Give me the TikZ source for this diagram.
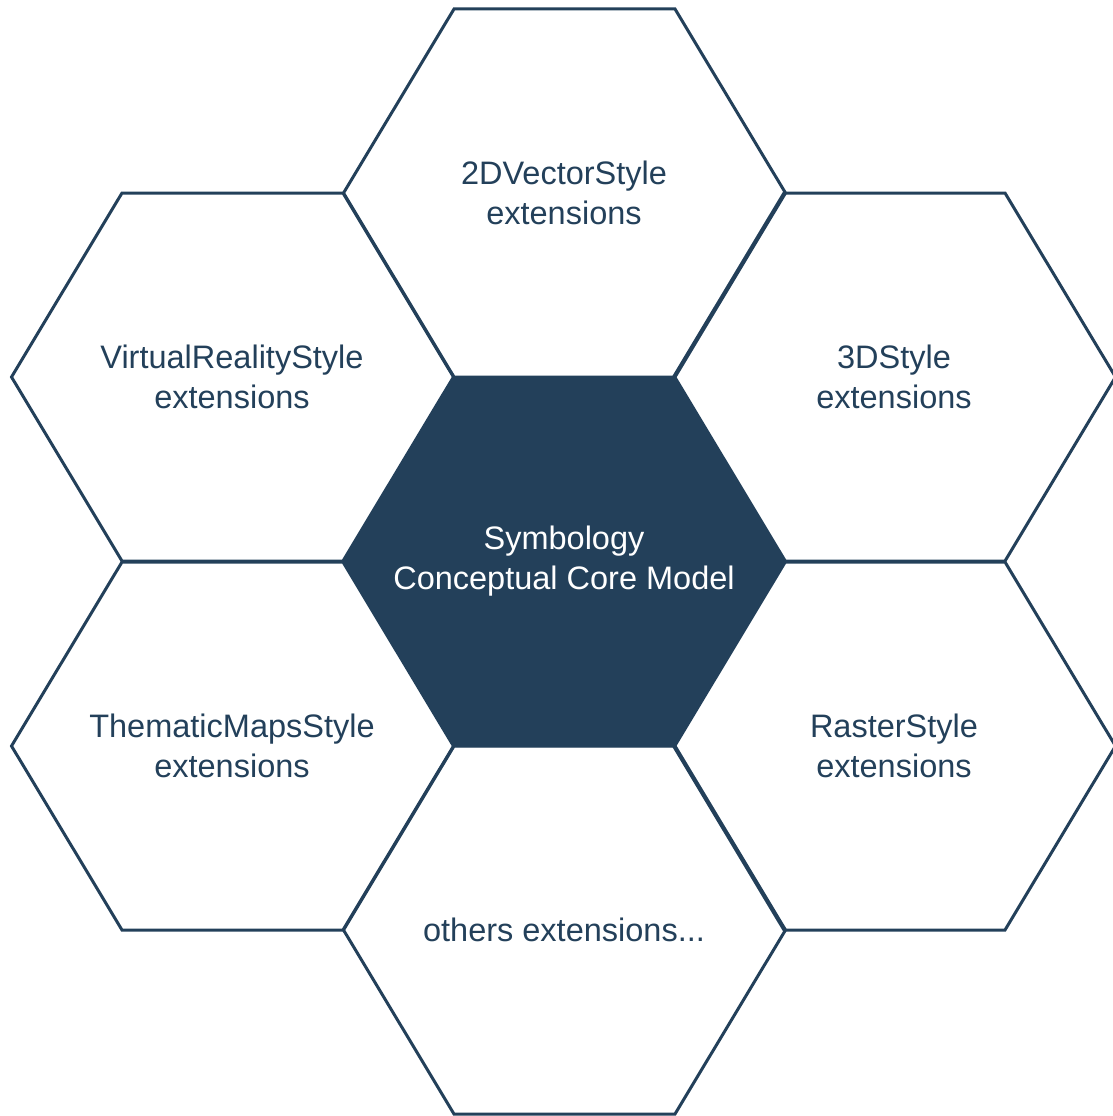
\documentclass[tikz,border=0pt]{standalone}
\usepackage{fontspec}
\setmainfont{Liberation Sans}
\usepackage{xcolor}
\usetikzlibrary{calc}

\definecolor{navy}{HTML}{23405A}

\tikzset{
    cell/.style={draw=navy,line width=3pt,line join=miter},
    core/.style={cell,fill=navy},
    label/.style={align=center,text=navy,font=\fontsize{32.5}{40}\selectfont},
    corelabel/.style={label,text=white}
}

\begin{document}
\begin{tikzpicture}[x=1pt,y=-1pt]
        \useasboundingbox (0,0) rectangle (1113,1116);

        \coordinate (mid) at (564,561.5);
        \coordinate (top) at (564,193);
        \coordinate (ur) at (894,377);
        \coordinate (ul) at (232,377);
        \coordinate (lr) at (894,746);
        \coordinate (ll) at (232,746);
        \coordinate (bot) at (564,930);

        % outer cells
        \foreach \c in {top,ur,ul,lr,ll,bot}
            \draw[cell] ($(\c)+(-220.5,0)$) -- ++(110.5,-184) -- ++(221,0) -- ++(110.5,184)
                -- ++(-110.5,184) -- ++(-221,0) -- cycle;

        % core cell
        \draw[core] ($(mid)+(-220.5,0)$) -- ++(110.5,-184) -- ++(221,0) -- ++(110.5,184)
            -- ++(-110.5,184) -- ++(-221,0) -- cycle;

        \node[corelabel] (coretext) at (mid) {Symbology\\Conceptual Core Model};
        \node[label] (vector) at (top) {2DVectorStyle\\extensions};
        \node[label] (threed) at (ur) {3DStyle\\extensions};
        \node[label] (vr) at (ul) {VirtualRealityStyle\\extensions};
        \node[label] (raster) at (lr) {RasterStyle\\extensions};
        \node[label] (thematic) at (ll) {ThematicMapsStyle\\extensions};
        \node[label] (others) at (bot) {others extensions...};
\end{tikzpicture}
\end{document}
